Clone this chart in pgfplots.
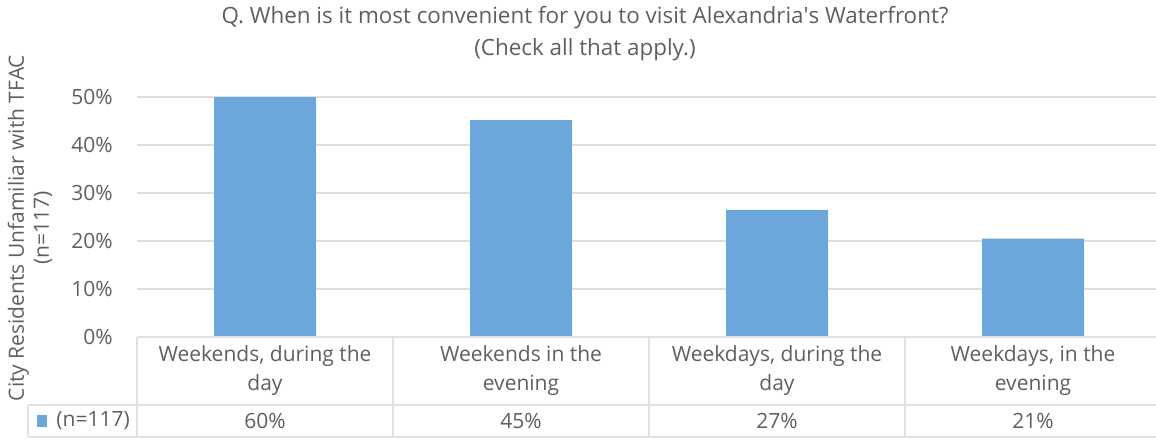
\documentclass[border=0pt]{standalone}
\usepackage{fontspec}
\setmainfont{Open Sans}
\newfontfamily\osplain{Open Sans}[Ligatures=ResetAll]
\usepackage{pgfplots}
\pgfplotsset{compat=1.18}
\definecolor{barblue}{RGB}{108,166,219}
\definecolor{txt}{RGB}{95,95,95}
\definecolor{gridc}{RGB}{222,222,222}
\definecolor{tbl}{RGB}{226,226,226}
\begin{document}
\begin{tikzpicture}[x=1pt,y=1pt]
\begin{axis}[
  at={(0,0)}, anchor=south west,
  scale only axis, width=512pt, height=120pt,
  xmin=-0.5, xmax=3.5, ymin=0, ymax=50,
  axis line style={draw=none},
  ytick={10,20,...,50}, extra y ticks={0}, extra y tick style={grid=none},
  ymajorgrids, grid style={gridc, line width=0.6pt},
  major tick length=0pt,
  xtick={0,1,2,3},
  xticklabels={{Weekends, during the\\day},{Weekends in the\\evening},{Weekdays, during the\\day},{Weekdays, in the\\evening}},
  xticklabel style={align=center, anchor=center, yshift=-17pt, font=\fontsize{10.5}{14.5}\selectfont, text=txt},
  yticklabel={\pgfmathprintnumber{\tick}\%},
  yticklabel style={inner xsep=0pt, xshift=-12pt, font=\fontsize{10.5}{12}\selectfont, text=txt},
  /pgf/number format/assume math mode=true,
  ybar, bar width=51pt,
]
\addplot[fill=barblue, draw=none] coordinates {(0,60) (1,45.2) (2,26.5) (3,20.5)};
\end{axis}
% data table lines
\begin{scope}[draw=tbl, line width=0.6pt]
\draw (0,0) -- (520,0);
\draw (-54.5,-34) -- (520,-34);
\draw (-54.5,-50) -- (520,-50);
\draw (-54.5,-34) -- (-54.5,-50);
\foreach \x in {0,128,256,384,512} \draw (\x,0) -- (\x,-50);
\end{scope}
% data table values
\begin{scope}[font=\fontsize{10.5}{12}\selectfont, text=txt]
\node at (64,-42) {60\%};
\node at (192,-42) {45\%};
\node at (320,-42) {27\%};
\node at (448,-42) {21\%};
\fill[barblue] (-50,-45) rectangle (-45,-39);
\node[anchor=west, inner sep=0pt] at (-40.5,-42) {(n=117)};
\end{scope}
% title
\node[align=center, font=\fontsize{11.2}{16}\selectfont, text=txt] at (224,151.5)
  {Q. When is it most convenient for you to visit Alexandria{\osplain'}s Waterfront?\\(Check all that apply.)};
% y label
\node[rotate=90, align=center, font=\fontsize{10.5}{12.5}\selectfont, text=txt] at (-53.5,54.5)
  {City Residents Unfamiliar with TFAC\\(n=117)};
\pgfresetboundingbox
\useasboundingbox (-68.5,-51.5) rectangle (509.5,168.5);
\end{tikzpicture}
\end{document}
